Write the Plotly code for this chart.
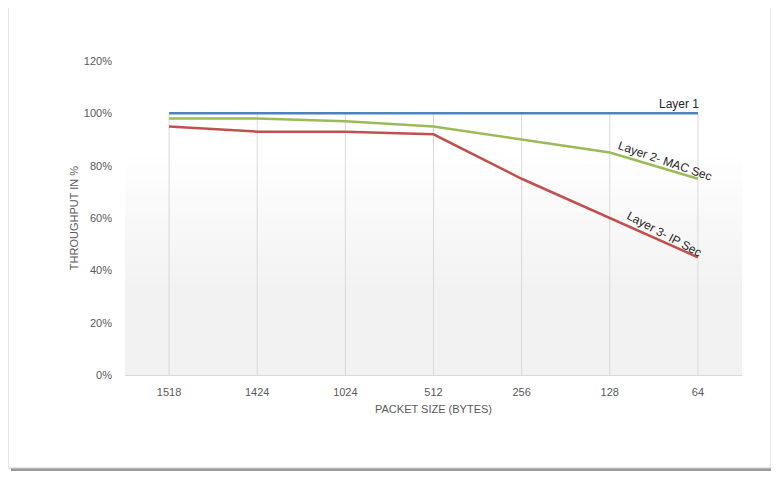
import plotly.graph_objects as go

packet_sizes = ["1518", "1424", "1024", "512", "256", "128", "64"]
layer1 = [1.00, 1.00, 1.00, 1.00, 1.00, 1.00, 1.00]
layer2 = [0.98, 0.98, 0.97, 0.95, 0.90, 0.85, 0.75]
layer3 = [0.95, 0.93, 0.93, 0.92, 0.75, 0.60, 0.45]
y_ticks = [0, 0.2, 0.4, 0.6, 0.8, 1.0, 1.2]

# page has an 8px body margin, so the figure is drawn 8px smaller and offset
OFF = 8
W, H = 779 - OFF, 480 - OFF
L, T = 125 - OFF, 61 - OFF
pw, ph = 617, 314
R = W - L - pw
B = H - T - ph

# helpers: reference-page pixel -> paper coords
def px(x):
    return (x - 125) / pw

def py(y):
    return (375 - y) / ph

font = "Liberation Sans, Arial, sans-serif"
gray = "#595959"

fig = go.Figure()
fig.add_trace(go.Scatter(x=packet_sizes, y=layer1, mode="lines", name="Layer 1",
                         line=dict(color="#4f81bd", width=2.5)))
fig.add_trace(go.Scatter(x=packet_sizes, y=layer2, mode="lines", name="Layer 2- MAC Sec",
                         line=dict(color="#9bbb59", width=2.5)))
fig.add_trace(go.Scatter(x=packet_sizes, y=layer3, mode="lines", name="Layer 3- IP Sec",
                         line=dict(color="#c0504d", width=2.5)))

shapes = []
# shadow + box
shapes.append(dict(type="rect", xref="paper", yref="paper", layer="below",
                   x0=px(11), x1=px(774), y0=py(9), y1=py(471),
                   fillcolor="#9a9a9a", line=dict(width=0)))
shapes.append(dict(type="rect", xref="paper", yref="paper", layer="below",
                   x0=px(8), x1=px(771), y0=py(6), y1=py(468),
                   fillcolor="white", line=dict(color="#d0d0d0", width=1)))
# gradient in plot area
n = 30
ytop = py(150)
for i in range(n):
    y0 = ytop * i / n
    y1 = ytop * (i + 1) / n
    frac = 1 - (i + 0.5) / n
    a = min(1.0, frac * 1.6)
    v = int(round(255 - (255 - 242) * a))
    shapes.append(dict(type="rect", xref="paper", yref="paper", layer="below",
                       x0=0, x1=1, y0=y0, y1=y1 + 0.002,
                       fillcolor=f"rgb({v},{v},{v})", line=dict(width=0)))
# drop lines from the highest point down to the axis
for i, cat in enumerate(packet_sizes):
    top = max(layer1[i], layer2[i], layer3[i])
    shapes.append(dict(type="line", xref="x", yref="y", layer="below",
                       x0=i, x1=i, y0=0, y1=top,
                       line=dict(color="#d9d9d9", width=1)))

annotations = [
    dict(xref="paper", yref="paper", x=px(679), y=py(104), text="Layer 1", showarrow=False,
         xanchor="center", yanchor="middle",
         font=dict(family=font, size=12, color="#262626")),
    dict(xref="paper", yref="paper", x=px(665), y=py(161), text="Layer 2- MAC Sec", showarrow=False,
         xanchor="center", yanchor="middle",
         textangle=19, font=dict(family=font, size=12, color="#262626")),
    dict(xref="paper", yref="paper", x=px(664), y=py(234), text="Layer 3- IP Sec", showarrow=False,
         xanchor="center", yanchor="middle",
         textangle=28, font=dict(family=font, size=12, color="#262626")),
]

fig.update_layout(
    width=W, height=H,
    margin=dict(l=L, r=R, t=T, b=B),
    paper_bgcolor="white",
    plot_bgcolor="rgba(0,0,0,0)",
    showlegend=False,
    shapes=shapes,
    annotations=annotations,
    font=dict(family=font, size=11, color=gray),
    xaxis=dict(
        type="category",
        range=[-0.5, 6.5],
        showgrid=False,
        showline=True, linecolor="#d9d9d9", linewidth=1,
        ticks="", ticklabelstandoff=7,
        tickfont=dict(family=font, size=11, color=gray),
        title=dict(text="PACKET SIZE (BYTES)", standoff=8,
                   font=dict(family=font, size=11, color=gray)),
        zeroline=False,
    ),
    yaxis=dict(
        range=[0, 1.2],
        tickvals=y_ticks,
        tickformat=".0%",
        showgrid=False, showline=False, zeroline=False,
        ticks="", ticklabelstandoff=12,
        tickfont=dict(family=font, size=11, color=gray),
        title=dict(text="THROUGHPUT IN %", standoff=3,
                   font=dict(family=font, size=11, color=gray)),
    ),
)

fig.write_html("out.html")
